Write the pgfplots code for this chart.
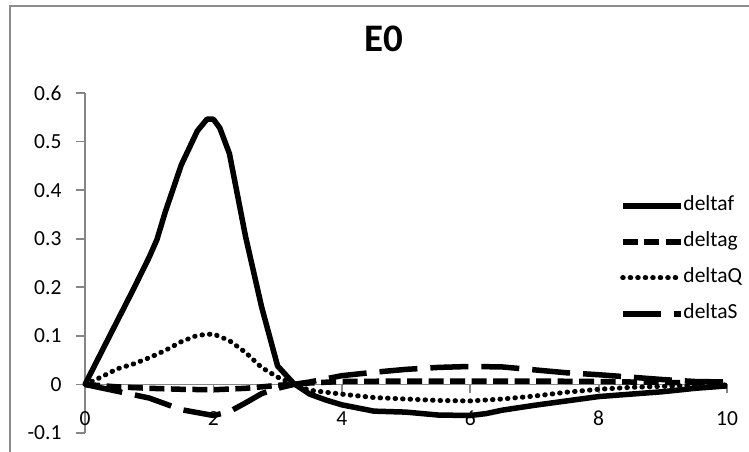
\documentclass[border=0pt]{standalone}
\usepackage{fontspec}
\setmainfont{Carlito}
\usepackage{pgfplots}
\pgfplotsset{compat=1.18}
\usepackage{pgfplotstable}
\definecolor{axgray}{HTML}{868686}
\definecolor{bordergray}{HTML}{8C8C8C}

\pgfplotstableread{
x y
0 0
0.25 0.065
0.5 0.13
0.75 0.195
1.0 0.262
1.12 0.298
1.25 0.355
1.5 0.452
1.75 0.522
1.9 0.546
2.0 0.546
2.1 0.528
2.25 0.475
2.5 0.305
2.75 0.16
3.0 0.038
3.25 0.002
3.5 -0.02
3.75 -0.032
4.0 -0.042
4.5 -0.055
5.0 -0.057
5.5 -0.063
6.0 -0.064
6.25 -0.06
6.5 -0.053
7.0 -0.043
7.5 -0.034
8.0 -0.025
8.5 -0.02
9.0 -0.015
9.5 -0.008
10 -0.003
}\deltaf

\pgfplotstableread{
x y
0 0
0.5 -0.005
1 -0.008
1.5 -0.01
2 -0.011
2.5 -0.008
3 -0.002
3.5 0.003
4 0.006
5 0.007
6 0.007
7 0.007
8 0.006
9 0.004
10 0.003
}\deltag

\pgfplotstableread{
x y
0 0
0.25 0.015
0.5 0.032
0.75 0.042
1.0 0.055
1.25 0.07
1.5 0.088
1.75 0.101
2.0 0.104
2.25 0.09
2.5 0.066
2.75 0.035
3.0 0.015
3.25 0.0
3.5 -0.012
4 -0.02
4.5 -0.027
5 -0.03
5.5 -0.033
6 -0.034
6.5 -0.03
7 -0.024
7.5 -0.016
8 -0.01
8.5 -0.006
9 -0.004
9.5 -0.002
10 -0.001
}\deltaQ

\pgfplotstableread{
x y
0 0
0.5 -0.014
1 -0.028
1.5 -0.052
2 -0.064
2.25 -0.056
2.5 -0.038
2.75 -0.019
3 -0.008
3.25 0.0
3.5 0.005
4 0.018
4.5 0.025
5 0.031
5.5 0.035
6 0.037
6.5 0.036
7 0.03
7.5 0.024
8 0.02
8.5 0.015
9 0.01
9.5 0.006
10 0.005
}\deltaS

\begin{document}
\begin{tikzpicture}
\useasboundingbox (0,0) rectangle (749pt,452pt);
\draw[bordergray, line width=1.5pt] (10pt,-10pt) -- (10pt,446pt) -- (800pt,446pt);
\begin{axis}[
  at={(85pt,19pt)}, anchor=south west,
  scale only axis, width=642pt, height=340pt,
  xmin=0, xmax=10, ymin=-0.1, ymax=0.6,
  axis x line=middle, axis y line=left,
  hide obscured x ticks=false,
  axis line style={axgray, line width=1.8pt, -},
  every tick/.style={axgray, line width=1.8pt},
  tick align=outside, major tick length=9pt,
  xtick={0,2,4,6,8,10}, ytick={-0.1,0,0.1,0.2,0.3,0.4,0.5,0.6},
  /pgf/number format/assume math mode=true,
  /pgf/number format/fixed,
  ticklabel style={font=\fontsize{21.5}{24}\selectfont},
  xticklabel style={anchor=center, yshift=-25pt},
  yticklabel style={anchor=east, xshift=-11pt},
  title={\textbf{E0}},
  title style={at={(axis description cs:0.466,1.141)}, anchor=center, font=\fontsize{39}{44}\selectfont},
  legend style={draw=none, fill=none, at={(axis description cs:0.833,0.695)}, anchor=north west,
    font=\fontsize{21.5}{24}\selectfont, row sep=18pt, inner sep=0pt,
    nodes={inner sep=0pt, text height=14pt, text depth=4pt}},
  legend cell align=left,
  legend image code/.code={\draw[#1] (0pt,0pt) -- (58pt,0pt);},
  /tikz/every even column/.append style={column sep=2pt},
  clip=false,
]
\addplot[black, line width=5.5pt, line join=round] table {\deltaf};
\addlegendentry{deltaf}
\addplot[black, line width=5.5pt, line join=round, dash pattern=on 15pt off 6.5pt] table {\deltag};
\addlegendentry{deltag}
\addplot[black, line width=5pt, line join=round, line cap=round, dash pattern=on 0.5pt off 7pt] table {\deltaQ};
\addlegendentry{deltaQ}
\addplot[black, line width=5.5pt, line join=round, dash pattern=on 38pt off 13pt] table {\deltaS};
\addlegendentry{deltaS}
\end{axis}
\end{tikzpicture}
\end{document}
